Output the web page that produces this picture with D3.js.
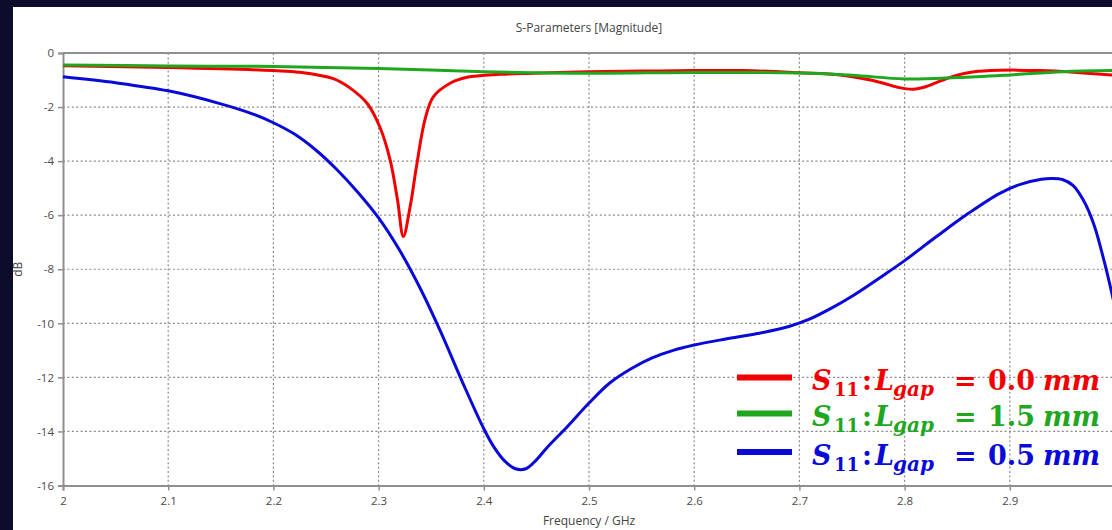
<!DOCTYPE html>
<html>
<head>
<meta charset="utf-8">
<script src="https://cdn.jsdelivr.net/npm/d3@7"></script>
<style>
  html, body { margin: 0; padding: 0; background: #0b0b2a; }
  svg { display: block; }
</style>
</head>
<body>
<svg id="chart" width="1112" height="530"></svg>
<script>
// S11 magnitude (dB) versus frequency (GHz) for three gap lengths
const gapLabels = ["0.0", "1.5", "0.5"];
const seriesColors = ["#f20000", "#1fa71f", "#0a0ad8"];

const freqRed = [2.000, 2.100, 2.200, 2.225, 2.257, 2.273, 2.289, 2.301, 2.311, 2.318, 2.3235, 2.330, 2.336, 2.344, 2.352, 2.368, 2.384, 2.415, 2.447, 2.500, 2.550, 2.600, 2.647, 2.700, 2.739, 2.765, 2.780, 2.795, 2.808, 2.820, 2.835, 2.850, 2.865, 2.890, 2.929, 2.967, 3.000];
const dbRed   = [-0.47, -0.54, -0.65, -0.71, -0.95, -1.30, -1.86, -2.72, -3.96, -5.44, -6.79, -5.68, -4.20, -2.48, -1.62, -1.12, -0.90, -0.79, -0.75, -0.69, -0.67, -0.65, -0.65, -0.73, -0.81, -0.98, -1.12, -1.28, -1.34, -1.25, -1.02, -0.82, -0.70, -0.64, -0.65, -0.73, -0.82];

const freqGreen = [2.000, 2.100, 2.200, 2.300, 2.400, 2.500, 2.600, 2.700, 2.750, 2.800, 2.850, 2.900, 2.950, 3.000];
const dbGreen   = [-0.44, -0.48, -0.50, -0.57, -0.69, -0.75, -0.72, -0.74, -0.82, -0.96, -0.91, -0.81, -0.69, -0.65];

const freqBlue = [2.000, 2.050, 2.100, 2.150, 2.180, 2.200, 2.220, 2.240, 2.260, 2.280, 2.300, 2.320, 2.340, 2.360, 2.380, 2.400, 2.410, 2.420, 2.430, 2.440, 2.450, 2.460, 2.480, 2.500, 2.520, 2.540, 2.560, 2.580, 2.600, 2.630, 2.660, 2.690, 2.710, 2.730, 2.750, 2.780, 2.800, 2.830, 2.860, 2.890, 2.910, 2.930, 2.940, 2.950, 2.960, 2.970, 2.980, 2.990, 3.000];
const dbBlue   = [-0.88, -1.10, -1.40, -1.88, -2.25, -2.58, -3.00, -3.58, -4.30, -5.14, -6.10, -7.30, -8.74, -10.40, -12.20, -13.90, -14.60, -15.10, -15.38, -15.38, -15.05, -14.60, -13.80, -12.95, -12.20, -11.68, -11.28, -11.00, -10.80, -10.58, -10.38, -10.12, -9.84, -9.45, -9.00, -8.22, -7.68, -6.80, -5.95, -5.20, -4.86, -4.67, -4.64, -4.68, -4.90, -5.45, -6.35, -7.75, -9.40];

const xTicks = [2, 2.1, 2.2, 2.3, 2.4, 2.5, 2.6, 2.7, 2.8, 2.9];
const yTicks = [0, -2, -4, -6, -8, -10, -12, -14, -16];

const series = [
  { f: freqRed,   v: dbRed,   color: seriesColors[0], gap: gapLabels[0] },
  { f: freqGreen, v: dbGreen, color: seriesColors[1], gap: gapLabels[1] },
  { f: freqBlue,  v: dbBlue,  color: seriesColors[2], gap: gapLabels[2] }
];

const svg = d3.select("#chart");
const W = 1112, H = 530;
const plot = { left: 63, right: 1115, top: 53, bottom: 485.5 };

// page background and white chart panel
svg.append("rect").attr("width", W).attr("height", H).attr("fill", "#0b0b2a");
svg.append("rect").attr("x", 13).attr("y", 7).attr("width", W - 13).attr("height", H - 7).attr("fill", "#ffffff");

const x = d3.scaleLinear().domain([2, 3]).range([plot.left, plot.right]);
const y = d3.scaleLinear().domain([0, -16]).range([plot.top, plot.bottom]);

const labelFont = "'Open Sans', 'DejaVu Sans', sans-serif";

// dotted grid
const grid = svg.append("g");
grid.selectAll("line.vx").data(xTicks.slice(1)).join("line")
  .attr("x1", d => x(d)).attr("x2", d => x(d))
  .attr("y1", plot.top).attr("y2", plot.bottom)
  .attr("stroke", "#8a8a8a").attr("stroke-width", 1.2).attr("stroke-dasharray", "2,2.4");
grid.selectAll("line.hy").data(yTicks.slice(1, -1)).join("line")
  .attr("x1", plot.left).attr("x2", plot.right)
  .attr("y1", d => y(d)).attr("y2", d => y(d))
  .attr("stroke", "#8a8a8a").attr("stroke-width", 1.2).attr("stroke-dasharray", "2,2.4");

// axes
const xAxis = d3.axisBottom(x).tickValues(xTicks).tickSize(5).tickPadding(6)
  .tickFormat(d => String(+d.toFixed(1)));
const gx = svg.append("g").attr("transform", `translate(0,${plot.bottom})`).call(xAxis);
const yAxis = d3.axisLeft(y).tickValues(yTicks).tickSize(5).tickPadding(4)
  .tickFormat(d => String(d));
const gy = svg.append("g").attr("transform", `translate(${plot.left},0)`).call(yAxis);
[gx, gy].forEach(g => {
  g.select(".domain").attr("stroke", "#8f8f8f").attr("stroke-width", 2);
  g.selectAll(".tick line").attr("stroke", "#8f8f8f").attr("stroke-width", 1.5);
  g.selectAll(".tick text").attr("fill", "#4a4a4a").attr("font-size", 11.5).attr("font-family", labelFont);
});
// top frame line
svg.append("line").attr("x1", plot.left).attr("x2", plot.right)
  .attr("y1", plot.top).attr("y2", plot.top)
  .attr("stroke", "#8f8f8f").attr("stroke-width", 2);

// curves
const line = d3.line().x(d => x(d[0])).y(d => y(d[1])).curve(d3.curveCatmullRom.alpha(0.5));
const curves = svg.append("g");
series.forEach(s => {
  curves.append("path")
    .datum(s.f.map((f, i) => [f, s.v[i]]))
    .attr("d", line)
    .attr("fill", "none")
    .attr("stroke", s.color)
    .attr("stroke-width", 3)
    .attr("stroke-linejoin", "round");
});

// titles
svg.append("text").attr("x", (plot.left + plot.right) / 2).attr("y", 32)
  .attr("text-anchor", "middle").attr("font-size", 12).attr("fill", "#444")
  .attr("font-family", labelFont).text("S-Parameters [Magnitude]");
svg.append("text").attr("x", (plot.left + plot.right) / 2).attr("y", 525)
  .attr("text-anchor", "middle").attr("font-size", 12).attr("fill", "#444")
  .attr("font-family", labelFont).text("Frequency / GHz");
svg.append("text").attr("transform", `translate(22,${(plot.top + plot.bottom) / 2}) rotate(-90)`)
  .attr("text-anchor", "middle").attr("font-size", 12).attr("fill", "#444")
  .attr("font-family", labelFont).text("dB");

// legend: swatch plus  S11 : L_gap = value mm
const legendRows = [377.5, 413.5, 452];
const legend = svg.append("g")
  .attr("font-family", "'DejaVu Serif', 'Liberation Serif', serif")
  .attr("font-weight", "bold");
series.forEach((s, i) => {
  const yy = legendRows[i];
  legend.append("line").attr("x1", 737).attr("x2", 792).attr("y1", yy).attr("y2", yy)
    .attr("stroke", s.color).attr("stroke-width", 6);
  const base = yy + 12.5;
  const g = legend.append("g").attr("fill", s.color);
  const piece = (px, py, size, italic, txt) => g.append("text")
    .attr("x", px).attr("y", py).attr("font-size", size)
    .attr("font-style", italic ? "italic" : "normal").text(txt);
  piece(812, base, 27, true, "S");
  piece(834, base + 6, 18, false, "11");
  piece(862, base, 27, false, ":");
  piece(875, base, 27, true, "L");
  piece(893, base + 6, 20, true, "gap");
  piece(954, base, 27, false, "=");
  piece(988, base, 27, false, s.gap);
  piece(1043, base, 27, true, "mm");
});
</script>
</body>
</html>
